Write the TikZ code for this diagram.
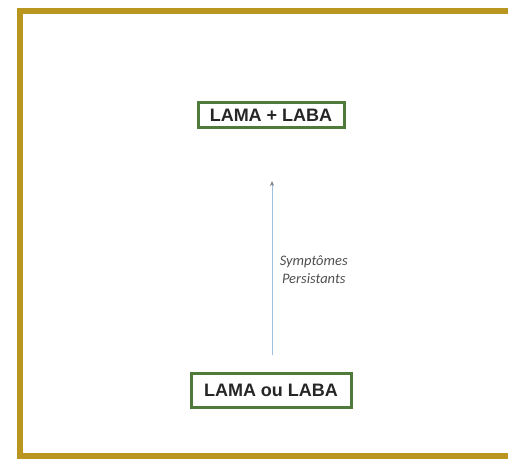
\documentclass[tikz,border=0pt]{standalone}
\usepackage{fontspec}
\setmainfont{Liberation Sans}
\newfontfamily\labelfont{Carlito}
\usetikzlibrary{arrows.meta}
\definecolor{frameGold}{HTML}{B8961F}
\definecolor{boxGreen}{HTML}{4E7B3A}
\definecolor{linkBlue}{HTML}{9CC0E2}
\definecolor{noteGray}{HTML}{505050}
\tikzset{
  therapy/.style={draw=boxGreen, line width=3pt, fill=white, inner sep=0pt,
    font=\fontsize{18}{20}\selectfont\bfseries, text=black!85},
  link/.style={draw=linkBlue, line width=1pt,
    -{Stealth[length=5pt,width=4pt,color=gray]}},
  note/.style={font=\labelfont\itshape\fontsize{14.5}{18}\selectfont,
    text=noteGray, align=center}
}
\begin{document}
\begin{tikzpicture}[x=1pt,y=1pt]
  \useasboundingbox (0,0) rectangle (508,-458);
  \fill[white] (0,0) rectangle (508,-458);
  % outer frame, open on the right
  \begin{scope}
    \clip (0,0) rectangle (508,-458);
    \draw[frameGold, line width=5.5pt] (515,-11) -- (20,-11) -- (20,-456) -- (515,-456);
  \end{scope}
  % treatment steps
  \node[therapy, minimum width=146pt, minimum height=25pt] (combo) at (271,-115) {LAMA + LABA};
  \node[therapy, minimum width=160pt, minimum height=34pt] (mono) at (271,-390) {LAMA ou LABA};
  % escalation arrow
  \draw[link, shorten <=17pt, shorten >=52pt] ([xshift=1pt]mono.north) -- ([xshift=1pt]combo.south)
    node[note, pos=0.42, right=4pt] {Symptômes\\Persistants};
\end{tikzpicture}
\end{document}
